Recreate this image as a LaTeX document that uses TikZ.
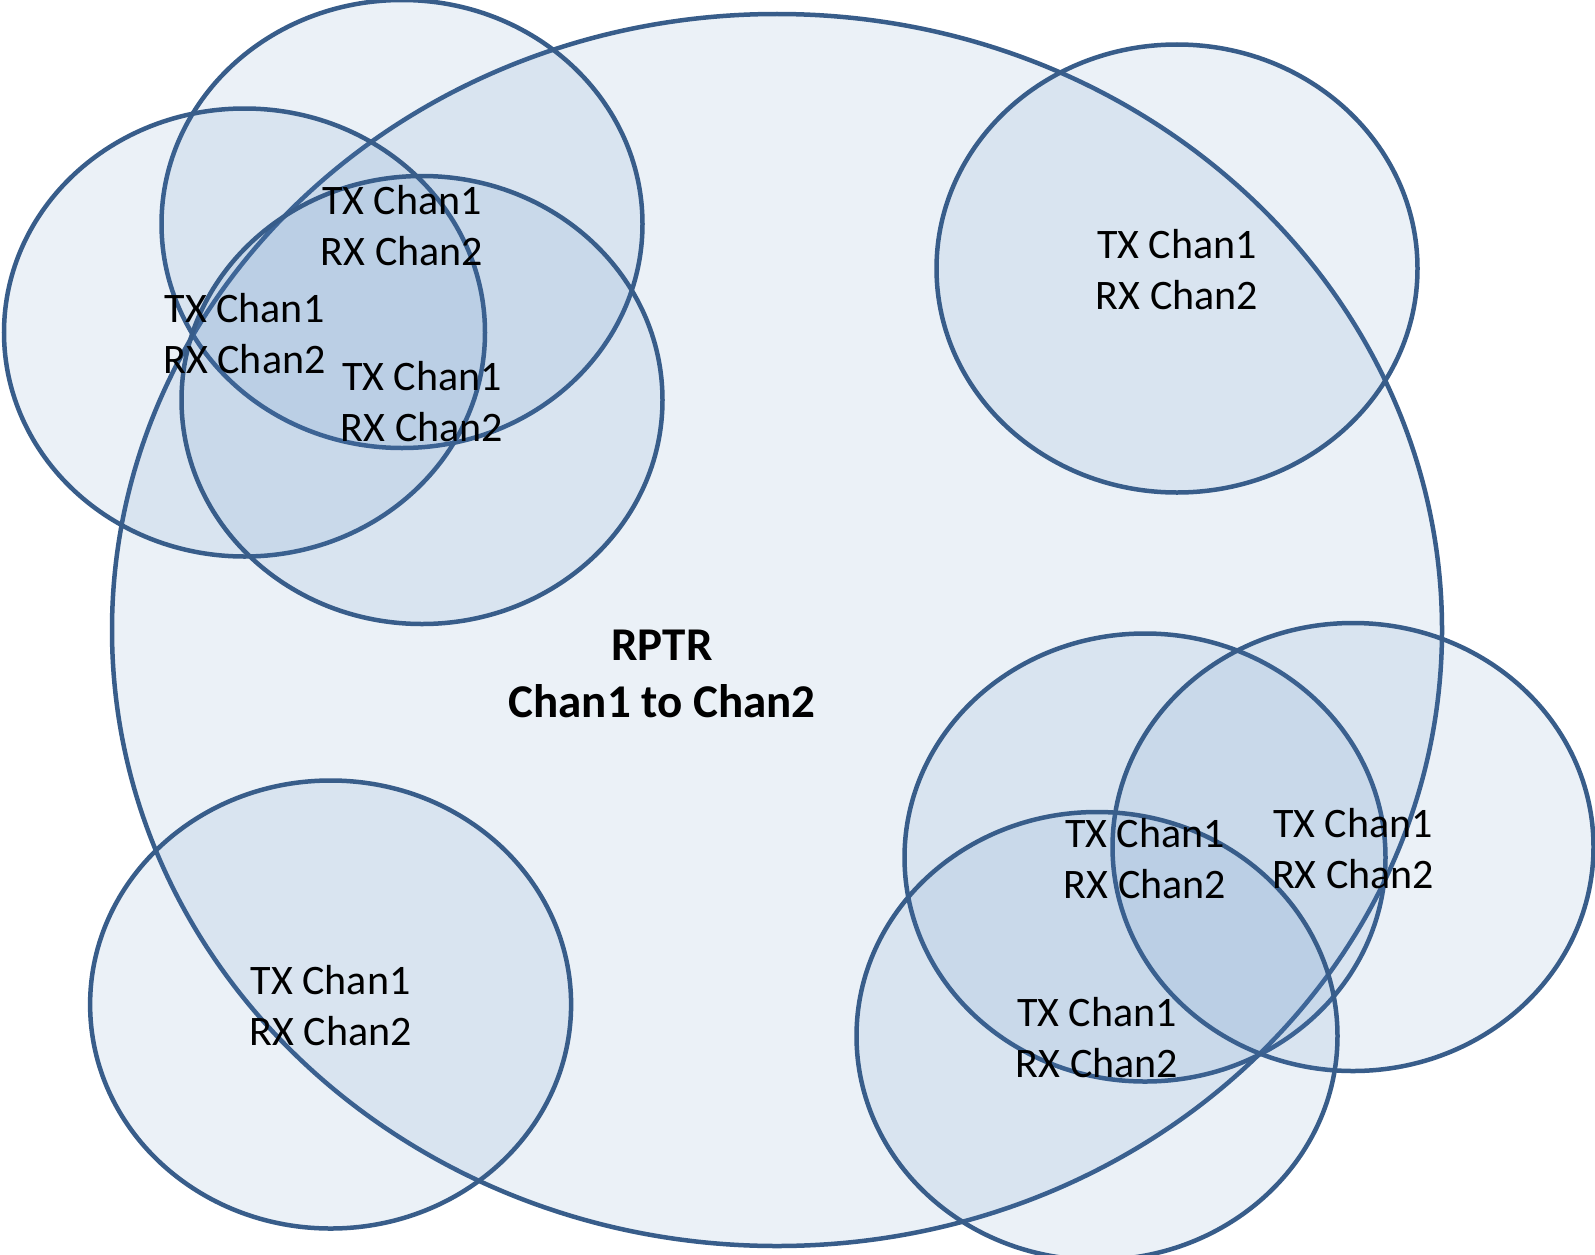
\documentclass[tikz,border=0pt]{standalone}
\usepackage{fontspec}
\usetikzlibrary{shapes.geometric}
\newfontfamily\lblfont{Carlito}
\definecolor{zoneline}{HTML}{385D8A}
\definecolor{zonefill}{HTML}{4F81BD}
\newcommand{\twolines}[2]{\begin{tabular}[t]{@{}c@{}}#1\\#2\end{tabular}}
\tikzset{
  zone/.style={ellipse, draw=zoneline, line width=4.5pt, fill=zonefill, fill opacity=0.11, draw opacity=1, inner sep=0pt, outer sep=0pt, minimum width=481pt, minimum height=448pt},
  bigzone/.style={zone, minimum width=1330pt, minimum height=1232pt},
  lbl/.style={anchor=base, inner sep=0pt, font=\lblfont\fontsize{42}{51}\selectfont, text=black},
  title/.style={anchor=base, inner sep=0pt, align=center, font=\lblfont\bfseries\fontsize{47}{57}\selectfont, text=black}
}
\begin{document}
\begin{tikzpicture}[x=1pt,y=-1pt]
\fill[white] (0,0) rectangle (1595,1255);
\useasboundingbox (0,0) rectangle (1595,1255);
% big repeater zone
\node[bigzone] (rptr) at (777,630) {};
% upper-left group
\node[zone] (za) at (402,224) {};
\node[zone] (zb) at (244.5,332.5) {};
\node[zone] (zc) at (422,400) {};
% upper right
\node[zone] (zur) at (1177,268.5) {};
% lower left
\node[zone] (zll) at (330.6,1004.5) {};
% lower-right group
\node[zone] (zd) at (1145,857.5) {};
\node[zone] (ze) at (1353,847) {};
\node[zone] (zf) at (1097,1036) {};
% labels
\node[lbl] (la) at (402,214) {\twolines{TX Chan1}{RX Chan2}};
\node[lbl] (lb) at (244.5,322.5) {\twolines{TX Chan1}{RX Chan2}};
\node[lbl] (lc) at (422,390) {\twolines{TX Chan1}{RX Chan2}};
\node[lbl] (lur) at (1177,258.5) {\twolines{TX Chan1}{RX Chan2}};
\node[lbl] (lll) at (330.6,994.5) {\twolines{TX Chan1}{RX Chan2}};
\node[lbl] (ld) at (1145,847.5) {\twolines{TX Chan1}{RX Chan2}};
\node[lbl] (le) at (1353,837) {\twolines{TX Chan1}{RX Chan2}};
\node[lbl] (lf) at (1097,1026) {\twolines{TX Chan1}{RX Chan2}};
\node[title] (ttl) at (662,660) {\twolines{RPTR}{Chan1 to Chan2}};
\end{tikzpicture}
\end{document}
